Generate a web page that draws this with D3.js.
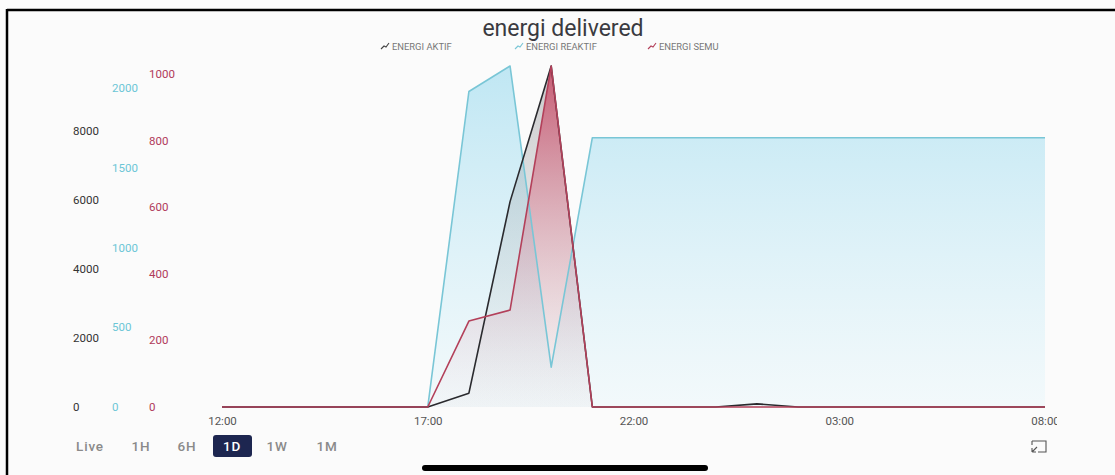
<!DOCTYPE html>
<html><head><meta charset="utf-8">
<script src="https://cdn.jsdelivr.net/npm/d3@7"></script>
<style>
html,body{margin:0;padding:0;background:#fbfbfb;}
svg{display:block;font-family:Roboto, "Noto Sans", sans-serif;}
</style></head>
<body><svg id="c" width="1115" height="475"></svg>
<script>
const hours = ["12:00","13:00","14:00","15:00","16:00","17:00","18:00","19:00","20:00","21:00","22:00","23:00","00:00","01:00","02:00","03:00","04:00","05:00","06:00","07:00","08:00"];
const xTickLabels = ["12:00","17:00","22:00","03:00","08:00"];
const energiAktif   = [0,0,0,0,0,0,400,5950,9880,0,0,0,0,90,0,0,0,0,0,0,0];
const energiReaktif = [0,0,0,0,0,0,1980,2140,250,1690,1690,1690,1690,1690,1690,1690,1690,1690,1690,1690,1690];
const energiSemu    = [0,0,0,0,0,0,258,291,1024,0,0,0,0,0,0,0,0,0,0,0,0];
const aktifTicks = [0,2000,4000,6000,8000];
const reaktifTicks = [0,500,1000,1500,2000];
const semuTicks = [0,200,400,600,800,1000];
const seriesNames = ["ENERGI AKTIF","ENERGI REAKTIF","ENERGI SEMU"];
const rangeButtons = ["Live","1H","6H","1D","1W","1M"];

const svg = d3.select("#c");
const X0 = 222, X1 = 1045, Y0 = 407, Y1 = 66;
const x = d3.scalePoint().domain(hours).range([X0, X1]);
const yA = d3.scaleLinear().domain([0, d3.max(energiAktif)]).range([Y0, Y1]);
const yR = d3.scaleLinear().domain([0, d3.max(energiReaktif)]).range([Y0, Y1]);
const yS = d3.scaleLinear().domain([0, d3.max(energiSemu)]).range([Y0, Y1]);

// frame
svg.append("rect").attr("x",0).attr("y",0).attr("width",1115).attr("height",475).attr("fill","#fbfbfb");
svg.append("line").attr("x1",7).attr("x2",1115).attr("y1",10).attr("y2",10).attr("stroke","#000").attr("stroke-width",2.5);
svg.append("line").attr("x1",7).attr("x2",7).attr("y1",9).attr("y2",475).attr("stroke","#000").attr("stroke-width",2.5);

const defs = svg.append("defs");
function grad(id, c1, o1, c2, o2){
  const g = defs.append("linearGradient").attr("id",id).attr("gradientUnits","userSpaceOnUse")
    .attr("x1",0).attr("x2",0).attr("y1",Y1).attr("y2",Y0);
  g.append("stop").attr("offset","0%").attr("stop-color",c1).attr("stop-opacity",o1);
  g.append("stop").attr("offset","100%").attr("stop-color",c2).attr("stop-opacity",o2);
}
grad("gR","#a6def0",0.7,"#eaf7fb",0.5);
grad("gA","#6a6a70",0.35,"#bbbbbb",0.05);
grad("gS","#c8405e",0.8,"#e8c8d0",0.05);
defs.append("clipPath").attr("id","clipT").append("rect").attr("x",0).attr("y",0).attr("width",1057).attr("height",475);

const series = [
  {vals: energiReaktif, y: yR, fill:"url(#gR)", stroke:"#79c6d6"},
  {vals: energiAktif, y: yA, fill:"url(#gA)", stroke:"#2a2a2e"},
  {vals: energiSemu, y: yS, fill:"url(#gS)", stroke:"#b3405a"}
];
series.forEach(s=>{
  const area = d3.area().x((d,i)=>x(hours[i])).y0(Y0).y1(d=>s.y(d));
  svg.append("path").datum(s.vals).attr("d",area).attr("fill",s.fill);
});
series.forEach(s=>{
  const line = d3.line().x((d,i)=>x(hours[i])).y(d=>s.y(d));
  svg.append("path").datum(s.vals).attr("d",line).attr("fill","none").attr("stroke",s.stroke).attr("stroke-width",1.6).attr("stroke-linejoin","round");
});

// y axes (left aligned labels)
function yAxis(ticks, scale, xpos, color){
  svg.append("g").selectAll("text").data(ticks).join("text")
    .attr("x",xpos).attr("y",d=>scale(d)).attr("dy","0.35em")
    .attr("font-size",11.5).attr("fill",color).text(d=>d);
}
yAxis(aktifTicks, yA, 73, "#333");
yAxis(reaktifTicks, yR, 112, "#6cc6d6");
yAxis(semuTicks, yS, 149, "#b03a5a");

// x axis
const xAxis = d3.axisBottom(x).tickValues(xTickLabels).tickSize(0).tickPadding(0);
const gx = svg.append("g").attr("transform",`translate(0,${Y0+10})`).attr("clip-path","url(#clipT)").call(xAxis);
gx.select(".domain").remove();
gx.selectAll("text").attr("font-size",11.5).attr("fill","#555").attr("font-family","Roboto, sans-serif");

// title
svg.append("text").attr("x",563).attr("y",36).attr("text-anchor","middle").attr("font-size",23).attr("fill","#3a3a40").text("energi delivered");

// legend
const legX = [392, 526, 659];
const legCol = ["#444","#79c6d6","#b3405a"];
seriesNames.forEach((n,i)=>{
  const g = svg.append("g");
  g.append("path").attr("d",`M${legX[i]-11},${49} l3,-3 l2,1 l3,-4`).attr("fill","none").attr("stroke",legCol[i]).attr("stroke-width",1.1);
  g.append("text").attr("x",legX[i]).attr("y",50).attr("font-size",9.4).attr("fill","#777").text(n);
});

// range buttons
const btnX = [90, 141, 187, 232, 277, 327];
rangeButtons.forEach((b,i)=>{
  if (b === "1D"){
    svg.append("rect").attr("x",btnX[i]-19).attr("y",435).attr("width",39).attr("height",22).attr("rx",3).attr("fill","#1d2650");
  }
  svg.append("text").attr("x",btnX[i]).attr("y",451).attr("text-anchor","middle").attr("font-size",13.5)
    .attr("letter-spacing",0.8).attr("font-weight",500)
    .attr("fill", b==="1D" ? "#fff" : "#8a8a8a").text(b);
});

// expand icon
const ic = svg.append("g").attr("fill","none").attr("stroke","#555").attr("stroke-width",1.1);
ic.append("path").attr("d","M1032,441 h14 v11 h-8 M1032,441 v4");
ic.append("path").attr("d","M1032,452 l5,-5 M1032,452 h4 M1032,452 v-4");

// home indicator
svg.append("line").attr("x1",425).attr("x2",705).attr("y1",468).attr("y2",468).attr("stroke","#000").attr("stroke-width",6).attr("stroke-linecap","round");
</script></body></html>
